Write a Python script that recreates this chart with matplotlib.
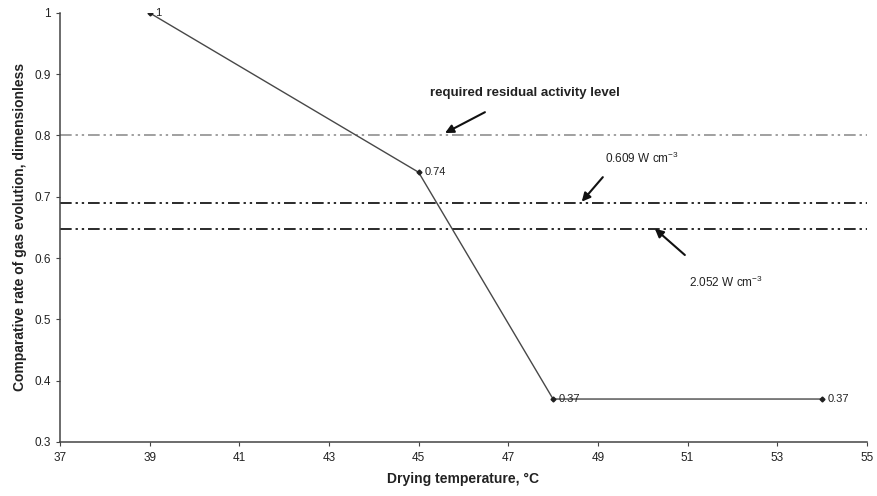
import matplotlib
matplotlib.use("Agg")
import matplotlib.pyplot as plt

temps = [39, 45, 48, 54]
rates = [1.0, 0.74, 0.37, 0.37]
point_labels = ["1", "0.74", "0.37", "0.37"]

level_required = 0.80
level_0609 = 0.69
level_2052 = 0.647

x_ticks = [37, 39, 41, 43, 45, 47, 49, 51, 53, 55]
y_ticks = [0.3, 0.4, 0.5, 0.6, 0.7, 0.8, 0.9, 1.0]
y_tick_labels = ["0.3", "0.4", "0.5", "0.6", "0.7", "0.8", "0.9", "1"]

plt.rcParams['font.family'] = ['Liberation Sans', 'DejaVu Sans']
plt.rcParams['mathtext.fontset'] = 'custom'
plt.rcParams['mathtext.rm'] = 'Liberation Sans'
plt.rcParams['mathtext.default'] = 'regular'

fig = plt.figure(figsize=(8.78, 4.96), dpi=100)
ax = fig.add_axes([0.0683, 0.109, 0.919, 0.865])

dashstyle = (0, (6, 2, 1.2, 2, 1.2, 2))
ax.axhline(level_required, color='#a0a0a0', lw=1.4, linestyle=dashstyle)
ax.axhline(level_0609, color='#2a2a2a', lw=1.4, linestyle=dashstyle)
ax.axhline(level_2052, color='#2a2a2a', lw=1.4, linestyle=dashstyle)

ax.plot(temps, rates, color='#484848', lw=1.0, marker='D', markersize=2.5,
        markerfacecolor='#202020', markeredgecolor='#202020')
for x, y, t in zip(temps, rates, point_labels):
    ax.annotate(t, (x, y), xytext=(4, 0), textcoords='offset points',
                fontsize=8, va='center', ha='left', color='#222222')

arrowprops = dict(arrowstyle='-|>,head_length=0.5,head_width=0.25',
                  color='#111111', lw=1.5, shrinkA=0, shrinkB=0)

# required residual activity level
ax.text(47.37, 0.869, 'required residual activity level', ha='center', va='center',
        fontsize=9.5, fontweight='bold', color='#222222')
ax.annotate('', xy=(45.59, 0.804), xytext=(46.48, 0.838), arrowprops=arrowprops)

# 0.609 W cm-3
ax.text(49.98, 0.763, '0.609 W cm$^{-3}$', ha='center', va='center',
        fontsize=8.5, color='#222222')
ax.annotate('', xy=(48.64, 0.692), xytext=(49.11, 0.732), arrowprops=arrowprops)

# 2.052 W cm-3
ax.text(51.86, 0.561, '2.052 W cm$^{-3}$', ha='center', va='center',
        fontsize=8.5, color='#222222')
ax.annotate('', xy=(50.27, 0.648), xytext=(50.94, 0.605), arrowprops=arrowprops)

ax.set_xlim(37, 55)
ax.set_ylim(0.3, 1.0)
ax.set_xticks(x_ticks)
ax.set_yticks(y_ticks)
ax.set_yticklabels(y_tick_labels)
ax.tick_params(axis='both', labelsize=8.5, length=3, width=0.8, color='#444444', labelcolor='#222222')
ax.tick_params(axis='x', pad=4)

for s in ['top', 'right']:
    ax.spines[s].set_visible(False)
for s in ['left', 'bottom']:
    ax.spines[s].set_color('#444444')
    ax.spines[s].set_linewidth(1.1)

ax.set_xlabel('Drying temperature, °C', fontsize=10, fontweight='bold', color='#222222', labelpad=6)
ax.set_ylabel('Comparative rate of gas evolution, dimensionless', fontsize=10,
              fontweight='bold', color='#222222', labelpad=5)

fig.savefig('out.png', dpi=100)
